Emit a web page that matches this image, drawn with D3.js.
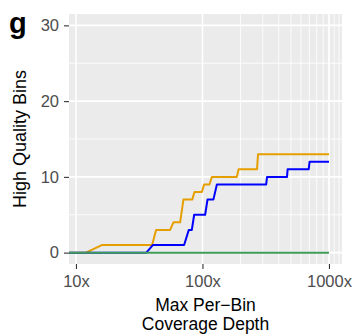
<!DOCTYPE html>
<html>
<head>
<meta charset="utf-8">
<script src="https://cdn.jsdelivr.net/npm/d3@7"></script>
<style>
  body { margin: 0; background: #fff; }
  svg { display: block; font-family: "Liberation Sans", Arial, sans-serif; }
</style>
</head>
<body>
<svg id="chart" width="355" height="336"></svg>
<script>
// Panel g: high quality bins vs. max per-bin coverage depth (log x)

const xTicks = [10, 100, 1000];
const xTickLabels = ["10x", "100x", "1000x"];
const xMinorBreaks = [100, 200, 300, 400, 500, 600, 700, 800, 900, 1000, 1100, 1200];
const yTicks = [0, 10, 20, 30];
const yMinorBreaks = [5, 15, 25];

// orange series
const orangeDepth = [8.8, 12, 16, 40, 43, 55.5, 59, 66.6, 70.7, 83, 86.5, 99, 103, 113.6, 118.7, 187, 193, 270, 275, 1000];
const orangeBins  = [0,   0,  1,  1,  3,  3,    4,  4,    7,    7,  8,    8,  9,   9,     10,    10,  11,  11,  13,  13];

// blue series
const blueDepth = [8.8, 36, 40.5, 71.6, 78, 82.4, 86, 105, 109.6, 122, 130, 319, 324, 466, 471, 691, 703, 1000];
const blueBins  = [0,   0,  1,    1,    3,  3,    5,  5,   7,     7,   9,   9,   10,  10,  11,  11,  12,  12];

// green series
const greenDepth = [8.8, 1000];
const greenBins  = [0, 0];

const seriesColors = ["#E69F00", "#0000FF", "#3F9B57"];

const svg = d3.select("#chart");
const panel = { left: 69, right: 342, top: 14, bottom: 264 };

const xScale = d3.scaleLog()
  .domain([Math.pow(10, 0.945), Math.pow(10, 3.103)])
  .range([panel.left, panel.right]);

const yScale = d3.scaleLinear()
  .domain([-1.5, 31.5])
  .range([panel.bottom, panel.top]);

// panel background
svg.append("rect")
  .attr("x", panel.left)
  .attr("y", panel.top)
  .attr("width", panel.right - panel.left)
  .attr("height", panel.bottom - panel.top)
  .attr("fill", "#EBEBEB");

const grid = svg.append("g");

// minor grid
grid.selectAll(".ymin")
  .data(yMinorBreaks)
  .enter().append("line")
    .attr("x1", panel.left).attr("x2", panel.right)
    .attr("y1", d => yScale(d)).attr("y2", d => yScale(d))
    .attr("stroke", "#fff").attr("stroke-width", 0.8);

grid.selectAll(".xmin")
  .data(xMinorBreaks)
  .enter().append("line")
    .attr("y1", panel.top).attr("y2", panel.bottom)
    .attr("x1", d => xScale(d)).attr("x2", d => xScale(d))
    .attr("stroke", "#fff").attr("stroke-width", 0.8);

// major grid
grid.selectAll(".ymaj")
  .data(yTicks)
  .enter().append("line")
    .attr("x1", panel.left).attr("x2", panel.right)
    .attr("y1", d => yScale(d)).attr("y2", d => yScale(d))
    .attr("stroke", "#fff").attr("stroke-width", 1.6);

grid.selectAll(".xmaj")
  .data(xTicks)
  .enter().append("line")
    .attr("y1", panel.top).attr("y2", panel.bottom)
    .attr("x1", d => xScale(d)).attr("x2", d => xScale(d))
    .attr("stroke", "#fff").attr("stroke-width", 1.6);

// lines
const line = d3.line()
  .x(d => xScale(d[0]))
  .y(d => yScale(d[1]));

const seriesData = [
  d3.zip(orangeDepth, orangeBins),
  d3.zip(blueDepth, blueBins),
  d3.zip(greenDepth, greenBins)
];

svg.append("clipPath").attr("id", "clip")
  .append("rect")
    .attr("x", panel.left).attr("y", panel.top)
    .attr("width", panel.right - panel.left)
    .attr("height", panel.bottom - panel.top);

svg.append("g")
  .attr("clip-path", "url(#clip)")
  .selectAll("path")
  .data(seriesData)
  .enter().append("path")
    .attr("d", line)
    .attr("fill", "none")
    .attr("stroke", (d, i) => seriesColors[i])
    .attr("stroke-width", 2)
    .attr("stroke-linejoin", "round");

// axes
const xAxis = svg.append("g")
  .attr("transform", `translate(0,${panel.bottom})`)
  .call(d3.axisBottom(xScale)
    .tickValues(xTicks)
    .tickFormat((d, i) => xTickLabels[i])
    .tickSize(5)
    .tickPadding(6));

const yAxis = svg.append("g")
  .attr("transform", `translate(${panel.left},0)`)
  .call(d3.axisLeft(yScale)
    .tickValues(yTicks)
    .tickSize(5)
    .tickPadding(5));

[xAxis, yAxis].forEach(ax => {
  ax.select(".domain").remove();
  ax.selectAll(".tick line").attr("stroke", "#333").attr("stroke-width", 1.1);
  ax.selectAll(".tick text")
    .attr("fill", "#4D4D4D")
    .attr("font-size", "16.5px")
    .attr("font-family", "Liberation Sans, Arial, sans-serif");
});

// titles
svg.append("text")
  .attr("transform", `translate(26,${(panel.top + panel.bottom) / 2}) rotate(-90)`)
  .attr("text-anchor", "middle")
  .attr("font-size", "18px")
  .attr("fill", "#000")
  .text("High Quality Bins");

const xTitle = svg.append("text")
  .attr("text-anchor", "middle")
  .attr("font-size", "17.5px")
  .attr("fill", "#000");

xTitle.append("tspan")
  .attr("x", (panel.left + panel.right) / 2)
  .attr("y", 311)
  .text("Max Per\u2212Bin");

xTitle.append("tspan")
  .attr("x", (panel.left + panel.right) / 2)
  .attr("y", 330)
  .text("Coverage Depth");

// panel tag
svg.append("text")
  .attr("x", 9)
  .attr("y", 33)
  .attr("font-size", "29px")
  .attr("font-weight", "bold")
  .attr("fill", "#000")
  .text("g");
</script>
</body>
</html>
